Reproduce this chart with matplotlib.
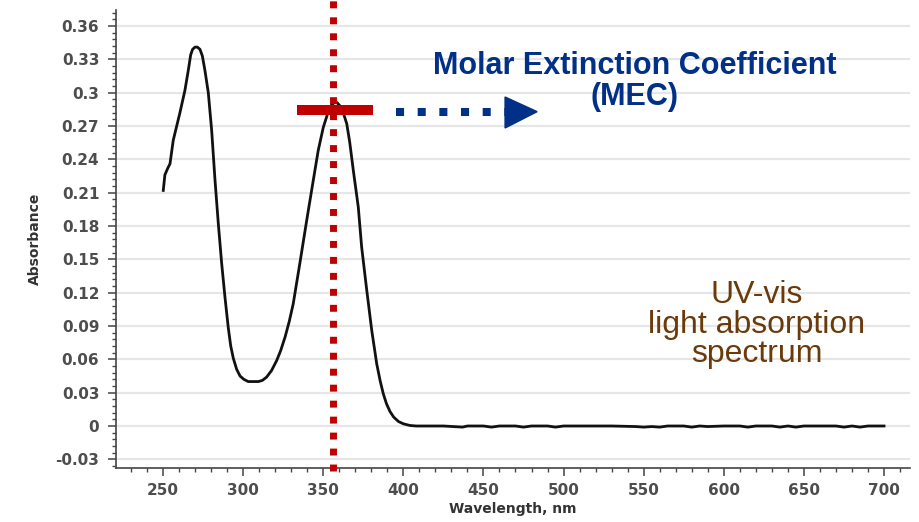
import matplotlib
matplotlib.use("Agg")
import matplotlib.pyplot as plt
from matplotlib.patches import Polygon
from matplotlib.ticker import MultipleLocator

# ── Spectrum data ────────────────────────────────────────────────
wavelength = [250.2, 251.2, 253.0, 254.4, 256.4, 260.6, 263.7, 265.8, 267.3, 268.5,
              270.0, 271.5, 273.1, 274.6, 276.2, 278.3, 280.4, 282.5, 284.5, 286.6,
              288.7, 290.8, 292.3, 293.9, 296.0, 298.1, 300.5, 303.2, 306.5, 309.5,
              312.0, 314.7, 317.8, 321.0, 323.5, 326.2, 328.8, 331.3, 335.5, 339.7,
              343.8, 346.9, 350.1, 353.2, 355.2, 356.9, 358.7, 360.5, 362.5, 364.7,
              366.5, 368.8, 371.9, 374.0, 377.2, 380.3, 383.4, 385.5, 387.5, 389.5,
              391.7, 394.0, 397.0, 400.0, 404.0, 408.0,
              415, 425, 437, 440, 450, 455, 460, 470, 475, 480, 490, 495, 500, 510,
              520, 530, 545, 550, 555, 560, 565, 575, 580, 585, 590, 600, 610, 615,
              620, 630, 635, 640, 645, 650, 660, 670, 675, 680, 685, 690, 700]
absorbance = [0.212, 0.226, 0.232, 0.236, 0.257, 0.282, 0.302, 0.320, 0.334, 0.339,
              0.341, 0.341, 0.339, 0.333, 0.320, 0.300, 0.266, 0.221, 0.183, 0.147,
              0.116, 0.088, 0.072, 0.061, 0.051, 0.045, 0.042, 0.040, 0.040, 0.040,
              0.041, 0.044, 0.050, 0.059, 0.068, 0.080, 0.094, 0.110, 0.147, 0.185,
              0.221, 0.248, 0.269, 0.283, 0.289, 0.291, 0.291, 0.288, 0.282, 0.272,
              0.256, 0.230, 0.197, 0.161, 0.122, 0.086, 0.056, 0.041, 0.029, 0.020,
              0.013, 0.008, 0.004, 0.002, 0.0005, 0.0,
              0.0, 0.0, -0.001, 0.0, 0.0, -0.001, 0.0, 0.0, -0.001, 0.0, 0.0, -0.001,
              0.0, 0.0, 0.0, 0.0, -0.0005, -0.001, -0.0005, -0.001, 0.0, 0.0, -0.001,
              0.0, -0.0005, 0.0, 0.0, -0.001, 0.0, 0.0, -0.001, 0.0, -0.001, 0.0,
              0.0, 0.0, -0.001, 0.0, -0.001, 0.0, 0.0]

peak_nm = 356.3
peak_bar = (333.6, 381.1)
peak_level = 0.2844
arrow_start = 395.5
arrow_tip = 483.5
arrow_level = 0.2829

x_ticks = [250, 300, 350, 400, 450, 500, 550, 600, 650, 700]
y_ticks = [-0.03, 0, 0.03, 0.06, 0.09, 0.12, 0.15, 0.18, 0.21, 0.24, 0.27, 0.3, 0.33, 0.36]
y_labels = ["-0.03", "0", "0.03", "0.06", "0.09", "0.12", "0.15", "0.18", "0.21",
            "0.24", "0.27", "0.3", "0.33", "0.36"]

RED = "#c00000"
BLUE = "#003087"
BROWN = "#6b3a0a"
TICK_COL = "#4d4d4d"

W, H = 919, 522
fig = plt.figure(figsize=(W / 100, H / 100), dpi=100)
ax = fig.add_axes([116 / W, 1 - 468 / H, (910 - 116) / W, (468 - 10) / H])

ax.set_xlim(220.7, 716.2)
ax.set_ylim(-0.0378, 0.3744)

# grid + spines
ax.set_yticks(y_ticks)
ax.set_yticklabels(y_labels)
ax.set_xticks(x_ticks)
ax.yaxis.set_minor_locator(MultipleLocator(0.006))
ax.xaxis.set_minor_locator(MultipleLocator(10))
ax.grid(axis="y", color="#e6e6e6", linewidth=1.6, zorder=0)
ax.set_axisbelow(True)
for side in ("top", "right"):
    ax.spines[side].set_visible(False)
for side in ("left", "bottom"):
    ax.spines[side].set_color("#444444")
    ax.spines[side].set_linewidth(1.2)
ax.tick_params(which="major", length=6, width=1.1, color="#444444",
               labelcolor=TICK_COL, labelsize=11, pad=6)
ax.tick_params(axis="x", which="major", pad=5)
ax.tick_params(which="minor", length=3, width=1.0, color="#444444")
for lab in ax.get_xticklabels() + ax.get_yticklabels():
    lab.set_fontweight("bold")

ax.set_ylabel("Absorbance", fontsize=10, fontweight="bold", color="#333333", labelpad=10)
ax.set_xlabel("Wavelength, nm", fontsize=10, fontweight="bold", color="#333333", labelpad=3)

# spectrum
ax.plot(wavelength, absorbance, color="#111111", linewidth=2.0, zorder=3,
        solid_joinstyle="round")

# red dotted marker at peak wavelength
ax.plot([peak_nm, peak_nm], [-0.0405, 0.3834], color=RED, linewidth=5.0,
        linestyle=(0, (1, 1.3)), dash_capstyle="butt", clip_on=False, zorder=4)
ax.plot(list(peak_bar), [peak_level, peak_level], color=RED, linewidth=7.2,
        solid_capstyle="butt", clip_on=False, zorder=5)

# blue dotted arrow
ax.plot([arrow_start, 466], [arrow_level, arrow_level], color=BLUE, linewidth=5.8,
        linestyle=(0, (1, 1.69)), dash_capstyle="butt", zorder=5)
head = Polygon([[463.5, 0.2961], [463.5, 0.2682], [arrow_tip, arrow_level]],
               closed=True, facecolor=BLUE, edgecolor=BLUE, zorder=6)
ax.add_patch(head)

# annotations
fig.text(635 / W, 1 - 74 / H, "Molar Extinction Coefficient", color=BLUE,
         fontsize=22, fontweight="bold", family="Liberation Sans",
         ha="center", va="baseline")
fig.text(635 / W, 1 - 105 / H, "(MEC)", color=BLUE,
         fontsize=22, fontweight="bold", family="Liberation Sans",
         ha="center", va="baseline")
for txt, base in [("UV-vis", 303), ("light absorption", 332.7), ("spectrum", 361.7)]:
    fig.text(757 / W, 1 - base / H, txt, color=BROWN, fontsize=23,
             family="Liberation Sans", ha="center", va="baseline")

fig.savefig("out.png", dpi=100, facecolor="white")
